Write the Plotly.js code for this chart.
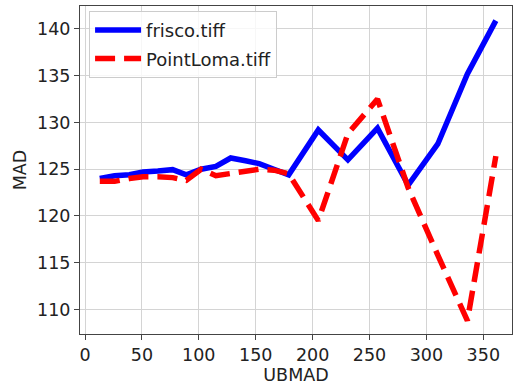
<!DOCTYPE html>
<html>
<head>
<meta charset="utf-8">
<script src="https://cdn.plot.ly/plotly-3.0.1.min.js"></script>
<style>html,body{margin:0;padding:0;background:#fff;}#chart{width:514px;height:385px;}</style>
</head>
<body>
<div id="chart"></div>
<script>
// UBMAD values (x) shared by both series
const ubmad = [13, 26, 39, 51, 64, 77, 89, 102, 115, 128, 141, 153, 166, 179, 205, 231, 257, 284, 310, 336, 361];
// MAD values
const frisco = [124.0, 124.3, 124.4, 124.7, 124.8, 124.95, 124.4, 125.0, 125.3, 126.2, 125.9, 125.6, 125.0, 124.4, 129.2, 126.0, 129.4, 123.3, 127.7, 135.2, 140.9];
const pointLoma = [123.7, 123.7, 124.0, 124.2, 124.2, 124.1, 123.8, 125.0, 124.3, 124.5, 124.8, 125.0, 124.9, 124.5, 119.5, 128.8, 132.5, 123.0, 115.8, 108.8, 126.4];
const seriesNames = ['frisco.tiff', 'PointLoma.tiff'];
const xTicks = [0, 50, 100, 150, 200, 250, 300, 350];
const yTicks = [110, 115, 120, 125, 130, 135, 140];

const FONT = 'DejaVu Sans, sans-serif';
const FS = 17.5;
const LFS = 18;
const TXT = '#222222';

const traces = [
  {x: ubmad, y: frisco, name: seriesNames[0], mode: 'lines', legendgroup: 'a',
   line: {color: '#0000ff', width: 5.5}},
  {x: ubmad, y: pointLoma, name: seriesNames[1], mode: 'lines', legendgroup: 'b',
   line: {color: '#ff0000', width: 5.5, dash: '20px,9px'}}
];

const axisCommon = {
  showline: true, mirror: true, linecolor: '#444', linewidth: 1,
  showgrid: true, gridcolor: '#d4d4d4', gridwidth: 1,
  zeroline: false, ticks: 'outside', ticklen: 5, tickwidth: 1, tickcolor: '#444',
  tickfont: {family: FONT, size: FS, color: TXT}
};

const layout = {
  width: 514, height: 385,
  margin: {l: 80, r: 2, t: 6, b: 51, pad: 0},
  paper_bgcolor: '#ffffff', plot_bgcolor: '#ffffff',
  font: {family: FONT, size: FS, color: TXT},
  showlegend: true,
  legend: {x: 0.021, y: 0.985, xanchor: 'left', yanchor: 'top',
    bgcolor: 'rgba(255,255,255,0.8)', bordercolor: '#cccccc', borderwidth: 1,
    itemwidth: 46,
    font: {family: FONT, size: LFS, color: TXT}, traceorder: 'grouped', tracegroupgap: 2},
  xaxis: Object.assign({}, axisCommon, {
    range: [-4.4, 375.2], tickmode: 'array', tickvals: xTicks, ticktext: xTicks.map(String),
    title: {text: 'UBMAD', font: {family: FONT, size: FS, color: TXT}, standoff: 3}
  }),
  yaxis: Object.assign({}, axisCommon, {
    range: [107.37, 142.46], tickmode: 'array', tickvals: yTicks, ticktext: yTicks.map(String),
    title: {text: 'MAD', font: {family: FONT, size: FS, color: TXT}, standoff: 5}
  })
};

Plotly.newPlot('chart', traces, layout, {displayModeBar: false, staticPlot: true});
</script>
</body>
</html>
